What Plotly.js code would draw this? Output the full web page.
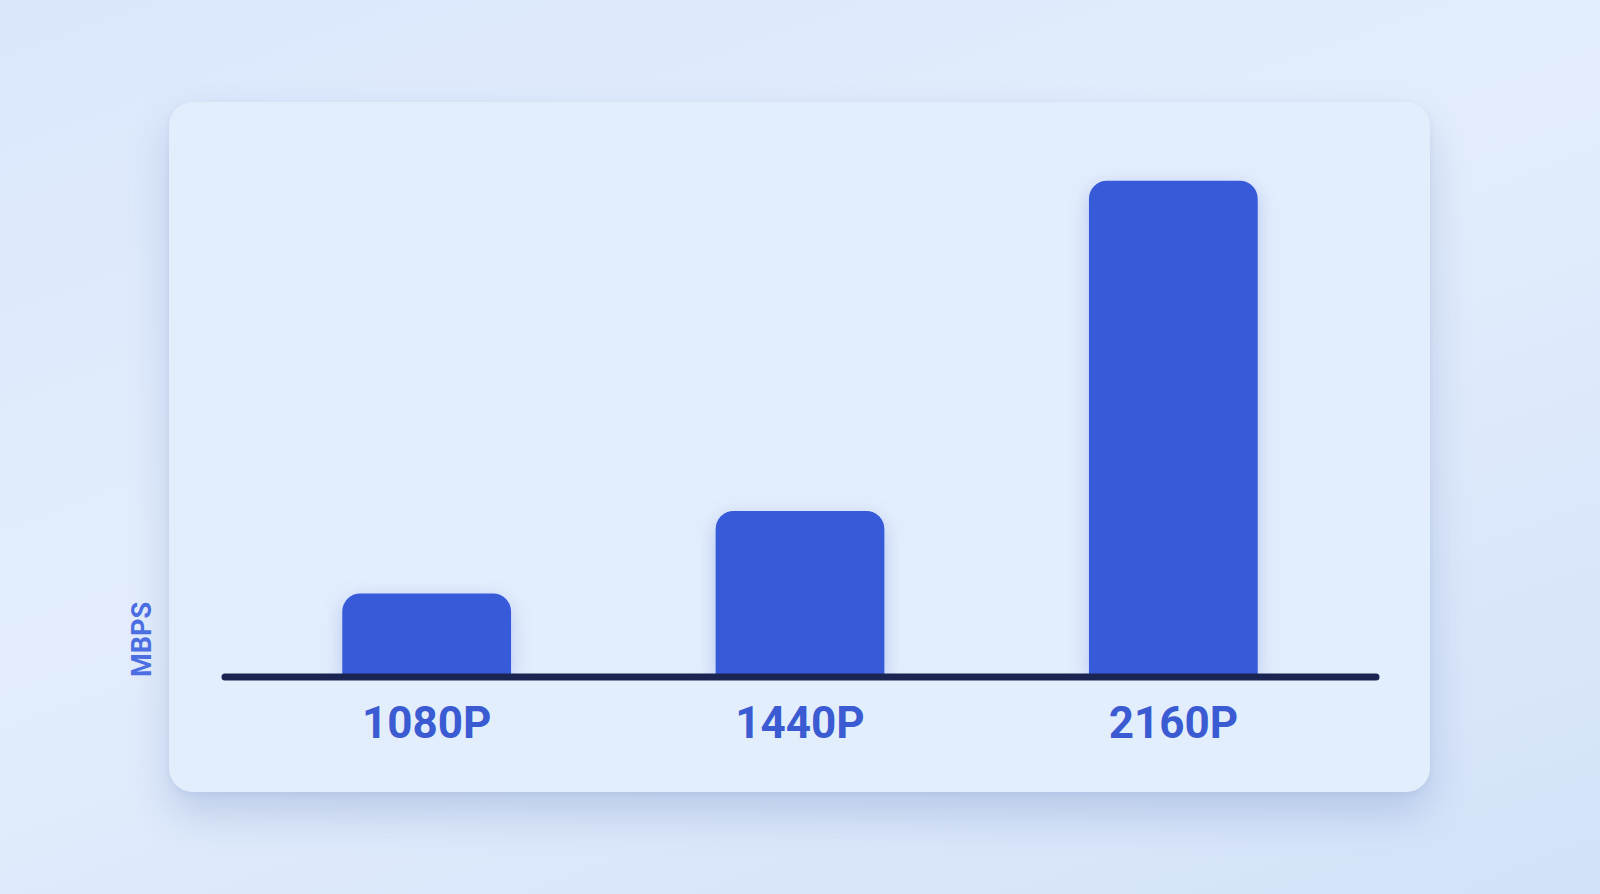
<!DOCTYPE html>
<html>
<head>
<meta charset="utf-8">
<script src="https://cdn.plot.ly/plotly-3.0.1.min.js"></script>
<style>
  html, body { margin: 0; padding: 0; width: 1600px; height: 894px; overflow: hidden; }
  body { background: linear-gradient(160deg, #dae7fb 0%, #e3edfc 45%, #d3e2f9 100%); position: relative; }
  #card {
    position: absolute; left: 169px; top: 102px; width: 1261px; height: 690px;
    background: #e3eefc; border-radius: 24px;
    box-shadow: 0 22px 40px rgba(70, 100, 170, 0.22), 0 2px 6px rgba(70, 100, 170, 0.08);
  }
  #chart { position: absolute; left: 0; top: 0; width: 1600px; height: 894px; }
  .shapelayer path { stroke-linecap: round !important; }
  .trace.bars .point path { filter: drop-shadow(0 6px 10px rgba(50, 80, 200, 0.25)); }
</style>
</head>
<body>
<div id="card"></div>
<div id="chart"></div>
<script>
// resolutions and bitrates (Mbps)
const resolutions = ['1080P', '1440P', '2160P'];
const bitrates = [8, 16, 48];
const unitLabel = 'MBPS';

document.addEventListener('DOMContentLoaded', function () {
  drawChart();
});

function drawChart() {
  const data = [{
    type: 'bar',
    x: resolutions,
    y: bitrates,
    marker: {
      color: '#375ad9',
      cornerradius: 18,
      line: { width: 0 }
    },
    hoverinfo: 'x+y',
    showlegend: false
  }];

  const layout = {
    width: 1600,
    height: 894,
    margin: { l: 240, r: 240, t: 160, b: 218 },
    paper_bgcolor: 'rgba(0,0,0,0)',
    plot_bgcolor: 'rgba(0,0,0,0)',
    bargap: 0.548,
    xaxis: {
      type: 'category',
      range: [-0.5, 2.5],
      showgrid: false,
      zeroline: false,
      showline: false,
      ticks: '',
      ticklabelstandoff: 17,
      tickfont: { family: 'Roboto, Inter, sans-serif', size: 44, color: '#3a5bd2', weight: 700 }
    },
    yaxis: {
      range: [0, 50],
      showgrid: false,
      zeroline: false,
      showline: false,
      showticklabels: false,
      ticks: ''
    },
    // baseline drawn in paper coords so the stroke is not clipped by the plot area
    shapes: [{
      type: 'line',
      xref: 'paper', yref: 'paper',
      x0: -0.0134, x1: 1.0143,
      y0: -0.002, y1: -0.002,
      layer: 'above',
      line: { color: '#1b2551', width: 7 }
    }],
    annotations: [{
      text: unitLabel,
      xref: 'paper', yref: 'paper',
      x: -0.0875, y: 0.07,
      xanchor: 'center', yanchor: 'middle',
      textangle: -90,
      showarrow: false,
      font: { family: 'Roboto, Inter, sans-serif', size: 27, color: '#4b6fe2', weight: 700 }
    }]
  };

  Plotly.newPlot('chart', data, layout, { displayModeBar: false });
}
</script>
</body>
</html>
